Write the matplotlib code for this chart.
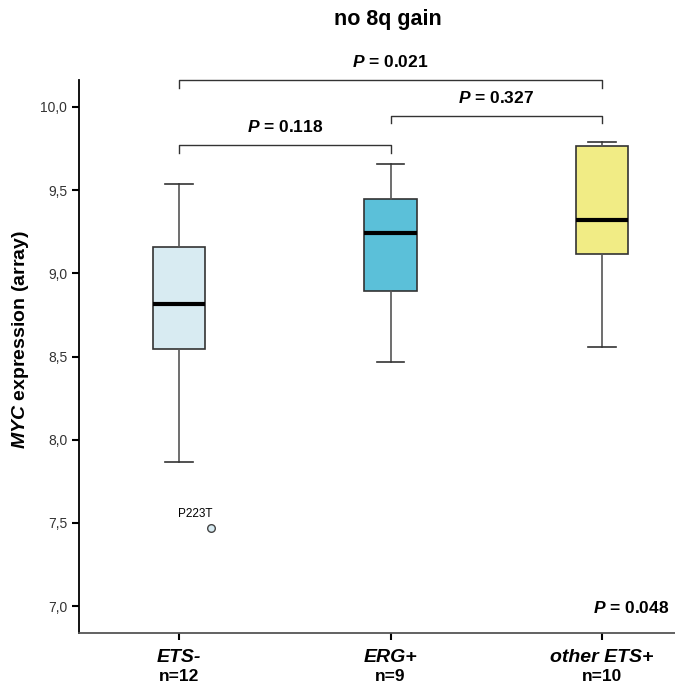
import matplotlib
matplotlib.use("Agg")
import matplotlib.pyplot as plt

plt.rcParams["font.family"] = ["Liberation Sans", "DejaVu Sans"]
plt.rcParams["mathtext.fontset"] = "custom"
plt.rcParams["mathtext.rm"] = "Liberation Sans:bold"
plt.rcParams["mathtext.it"] = "Liberation Sans:italic:bold"

# data
groups = ["ETS-", "ERG+", "other ETS+"]
n_cases = [12, 9, 10]
whis_lo = [7.865, 8.465, 8.555]
q1 = [8.548, 8.895, 9.118]
med = [8.815, 9.245, 9.318]
q3 = [9.160, 9.445, 9.765]
whis_hi = [9.540, 9.655, 9.790]
box_colors = ["#d8ebf2", "#5bc0d9", "#f1ec85"]
outlier_group = [0]
outlier_val = [7.47]
outlier_lab = ["P223T"]
pairs = [(0, 2), (1, 2), (0, 1)]
pvals = ["0.021", "0.327", "0.118"]
overall_p = "0.048"

fig = plt.figure(figsize=(6.75, 6.9), dpi=100)
ax = fig.add_axes([0.117, 0.083, 0.883, 0.801])

pos = [1, 2, 3]
stats = [dict(med=med[i], q1=q1[i], q3=q3[i], whislo=whis_lo[i], whishi=whis_hi[i],
              fliers=[]) for i in range(len(groups))]
bp = ax.bxp(stats, positions=pos, widths=0.25, patch_artist=True, showfliers=False,
            boxprops=dict(edgecolor="#333333", lw=1.2),
            whiskerprops=dict(color="#555555", lw=1.2),
            capprops=dict(color="#333333", lw=1.2),
            medianprops=dict(color="black", lw=3))
for patch, c in zip(bp["boxes"], box_colors):
    patch.set_facecolor(c)
for w in bp["caps"]:
    xd = w.get_xdata()
    mid = (xd[0] + xd[1]) / 2
    w.set_xdata([mid - 0.065, mid + 0.065])

# outlier, drawn slightly right of its box like the original
for g, v, lab in zip(outlier_group, outlier_val, outlier_lab):
    ax.plot(pos[g] + 0.15, v, "o", ms=5.5, mfc=box_colors[g], mec="#444444", mew=1)
    ax.text(pos[g] + 0.075, v + 0.05, lab, ha="center", va="bottom", fontsize=8.5)

# significance brackets
br_y = [10.162, 9.946, 9.770]
for (a, b), p, yb in zip(pairs, pvals, br_y):
    ax.plot([pos[a], pos[a], pos[b], pos[b]], [yb - 0.045, yb, yb, yb - 0.045],
            color="#333333", lw=1, clip_on=False)
    ax.text((pos[a] + pos[b]) / 2, yb + 0.06, f"$P$ = {p}", ha="center", va="bottom",
            fontsize=12.5, fontweight="bold", clip_on=False)

ax.text(0.99, 0.045, f"$P$ = {overall_p}", transform=ax.transAxes, ha="right",
        va="center", fontsize=12.5, fontweight="bold")

ax.set_xlim(0.527, 3.345)
ax.set_ylim(6.84, 10.162)
ax.set_yticks([7.0, 7.5, 8.0, 8.5, 9.0, 9.5, 10.0])
ax.set_yticklabels([f"{t:.1f}".replace(".", ",") for t in ax.get_yticks()],
                   fontsize=10, color="#333333")
ax.set_xticks(pos)
ax.set_xticklabels([])
ax.tick_params(axis="both", direction="out", length=5, width=1.5, color="black")
for i, g in enumerate(groups):
    ax.text(pos[i], -0.045, g, transform=ax.get_xaxis_transform(), ha="center",
            va="center", fontsize=14, fontweight="bold", style="italic")
    ax.text(pos[i], -0.079, f"n={n_cases[i]}", transform=ax.get_xaxis_transform(),
            ha="center", va="center", fontsize=12.5, fontweight="bold")

for s in ("top", "right"):
    ax.spines[s].set_visible(False)
ax.spines["left"].set_linewidth(1.3)
ax.spines["bottom"].set_linewidth(1.3)
ax.spines["bottom"].set_color("#555555")

ax.set_ylabel("$MYC$ expression (array)", fontsize=14, fontweight="bold")
ax.yaxis.set_label_coords(-0.08, 0.53)
fig.text(0.575, 0.972, "no 8q gain", ha="center", va="center", fontsize=15.5,
         fontweight="bold")

fig.savefig("out.png", dpi=100)
